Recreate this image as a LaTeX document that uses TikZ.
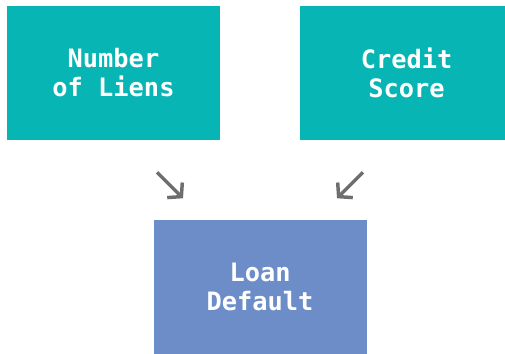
\documentclass[tikz,border=0pt]{standalone}
\usepackage{fontspec}
\usepackage{tikz}
\newfontfamily\boxfont{DejaVu Sans Mono}
\definecolor{mteal}{HTML}{08B5B5}
\definecolor{mslate}{HTML}{6C8DC8}
\definecolor{mgray}{HTML}{6E6E6E}
\usetikzlibrary{arrows.meta}
\tikzset{factor/.style = {fill=mteal, text=white, minimum width=159.75pt, minimum height=100.5pt, inner sep=0pt, align=center, font=\boxfont\bfseries\fontsize{19}{21.75}\selectfont}}
\tikzset{outcome/.style = {factor, fill=mslate}}
\tikzset{link/.style = {draw=mgray, line width=2.6pt, -{Straight Barb[length=7pt,width=16pt]}}}

\begin{document}
\begin{tikzpicture}[x=0.75pt,y=-0.75pt]
      \useasboundingbox (0,0) rectangle (505,353);
      \clip (0,0) rectangle (505,353);
      \node [factor] (liens) at (113.5,73) {Number\\of Liens};
      \node [factor] (score) at (406.5,73) {Credit\\Score};
      \node [outcome] (default) at (260,287) {Loan\\Default};
      \coordinate (lstart) at ([shift={(43.5,32)}]liens.south);
      \coordinate (rstart) at ([shift={(-43.5,32)}]score.south);
      \draw [link] (lstart) -- ++(26,26);
      \draw [link] (rstart) -- ++(-26,26);
    \end{tikzpicture}
\end{document}
